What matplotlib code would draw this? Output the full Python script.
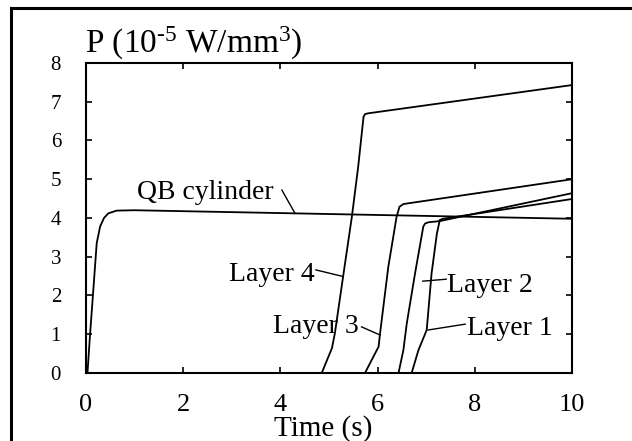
import matplotlib
matplotlib.use("Agg")
import matplotlib.pyplot as plt
from matplotlib.lines import Line2D

plt.rcParams['font.family'] = ['Liberation Serif', 'DejaVu Serif']
plt.rcParams['mathtext.default'] = 'regular'

# curves (time in s, P in 1e-5 W/mm^3)
qb_t = [0, 0.03, 0.08, 0.15, 0.22, 0.29, 0.37, 0.46, 0.63, 1.0, 10]
qb_p = [0, 0, 0.94, 2.14, 3.35, 3.78, 4.0, 4.12, 4.19, 4.2, 3.98]

l4_t = [4.85, 5.06, 5.12, 5.29, 5.47, 5.60, 5.71, 5.74, 5.80, 10]
l4_p = [0, 0.64, 1.02, 2.49, 4.03, 5.32, 6.61, 6.68, 6.70, 7.43]

l3_t = [5.74, 6.02, 6.05, 6.22, 6.39, 6.45, 6.53, 10]
l3_p = [0, 0.68, 1.02, 2.74, 4.03, 4.29, 4.36, 5.0]

l2_t = [6.43, 6.53, 6.60, 6.77, 6.94, 6.98, 7.05, 7.28, 10]
l2_p = [0, 0.59, 1.28, 2.57, 3.78, 3.86, 3.89, 3.92, 4.64]

l1_t = [6.70, 6.84, 7.01, 7.11, 7.22, 7.28, 7.35, 10]
l1_p = [0, 0.59, 1.11, 2.57, 3.60, 3.95, 3.98, 4.49]

series = [(qb_t, qb_p), (l4_t, l4_p), (l3_t, l3_p), (l2_t, l2_p), (l1_t, l1_p)]

# label text, text anchor, leader start, leader end, alignment
labels = [
    ("QB cylinder", (3.87, 4.65), (4.03, 4.72), (4.30, 4.12), 'right'),
    ("Layer 4", (4.70, 2.53), (4.73, 2.66), (5.29, 2.49), 'right'),
    ("Layer 3", (5.62, 1.19), (5.67, 1.19), (6.05, 0.98), 'right'),
    ("Layer 2", (7.43, 2.27), (7.41, 2.42), (6.93, 2.37), 'left'),
    ("Layer 1", (7.83, 1.16), (7.80, 1.26), (7.04, 1.11), 'left'),
]

fig = plt.figure(figsize=(6.32, 4.41), dpi=100)
ax = fig.add_axes([0.1361, 0.1542, 0.769, 0.703])

for t, p in series:
    ax.plot(t, p, color='black', lw=1.3)

for txt, pos, a, b, ha in labels:
    ax.plot([a[0], b[0]], [a[1], b[1]], color='black', lw=1.0)
    ax.text(pos[0], pos[1], txt, ha=ha, va='center', fontsize=20)

ax.set_xlim(0, 10)
ax.set_ylim(0, 8)
ax.set_xticks([0, 2, 4, 6, 8, 10])
ax.set_yticks(range(9))
ax.tick_params(axis='both', direction='in', top=True, right=True,
               length=4, width=1.2)
ax.tick_params(axis='x', labelsize=19, pad=15)
ax.tick_params(axis='y', labelsize=15, pad=18)
for s in ax.spines.values():
    s.set_linewidth(1.5)

# hyphen (U+2010) instead of a math minus, as in the original
fig.text(0.1345, 0.88, 'P (10$^{\u20105}$ W/mm$^{3}$)', fontsize=24, va='baseline')
fig.text(0.511, 0.012, 'Time (s)', fontsize=21, ha='center', va='baseline')

# outer frame (only the top and left sides fall inside the picture)
fig.add_artist(Line2D([11 / 632, 11 / 632], [0, 1 - 8 / 441], color='black', lw=2.2,
                      transform=fig.transFigure))
fig.add_artist(Line2D([11 / 632, 1], [1 - 8 / 441, 1 - 8 / 441], color='black', lw=2.2,
                      transform=fig.transFigure))

fig.savefig('out.png', dpi=100)
